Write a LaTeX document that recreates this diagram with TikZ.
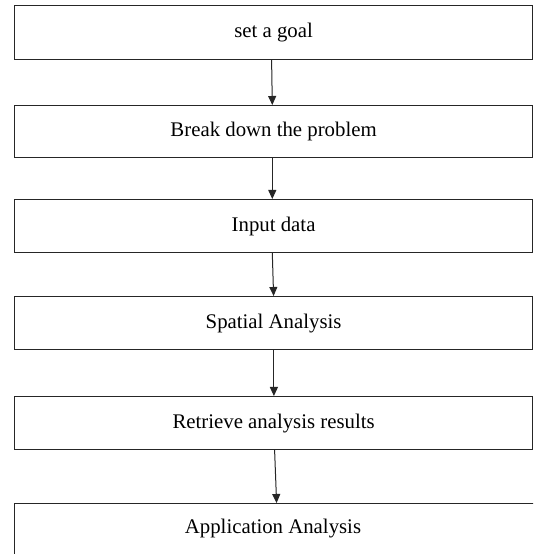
\documentclass[tikz,border=0pt]{standalone}
\usepackage{fontspec}
\setmainfont{Liberation Serif}
\usetikzlibrary{arrows.meta}
\begin{document}
\begin{tikzpicture}[x=1pt,y=1pt,
  stepbox/.style={draw=black!85, line width=1.2pt, rectangle, anchor=north west, inner sep=0pt, font=\fontsize{20.8}{24}\selectfont},
  link/.style={draw=black!85, line width=1pt, -{Triangle[length=9pt,width=8pt]}}]
\useasboundingbox (0,0) rectangle (533,554);
\clip (0,0) rectangle (533,554);
\fill[white] (0,0) rectangle (533,554);
\node[stepbox, minimum width=518pt, minimum height=54pt] (b1) at (14,549) {set a goal};
\node[stepbox, minimum width=518pt, minimum height=52pt] (b2) at (14,449) {Break down the problem};
\node[stepbox, minimum width=518pt, minimum height=53pt] (b3) at (14,355) {Input data};
\node[stepbox, minimum width=518pt, minimum height=53pt] (b4) at (14,258) {Spatial Analysis};
\node[stepbox, minimum width=518pt, minimum height=53pt] (b5) at (14,158) {Retrieve analysis results};
\node[stepbox, minimum width=530pt, minimum height=60pt, text depth=0pt] (b6) at (14,51) {};
\node[font=\fontsize{20.8}{24}\selectfont] (t6) at (273,25) {Application Analysis};
\draw[link] ([xshift=-2pt]b1.south) -- ([xshift=-1.3pt]b2.north);
\draw[link] ([xshift=-1.3pt]b2.south) -- ([xshift=-1.3pt]b3.north);
\draw[link] ([xshift=-1.3pt]b3.south) -- ([xshift=0pt]b4.north);
\draw[link] ([xshift=0.3pt]b4.south) -- ([xshift=0.3pt]b5.north);
\draw[link] ([xshift=1pt]b5.south) -- ([xshift=3pt]b5.south |- b6.north);
\end{tikzpicture}
\end{document}
